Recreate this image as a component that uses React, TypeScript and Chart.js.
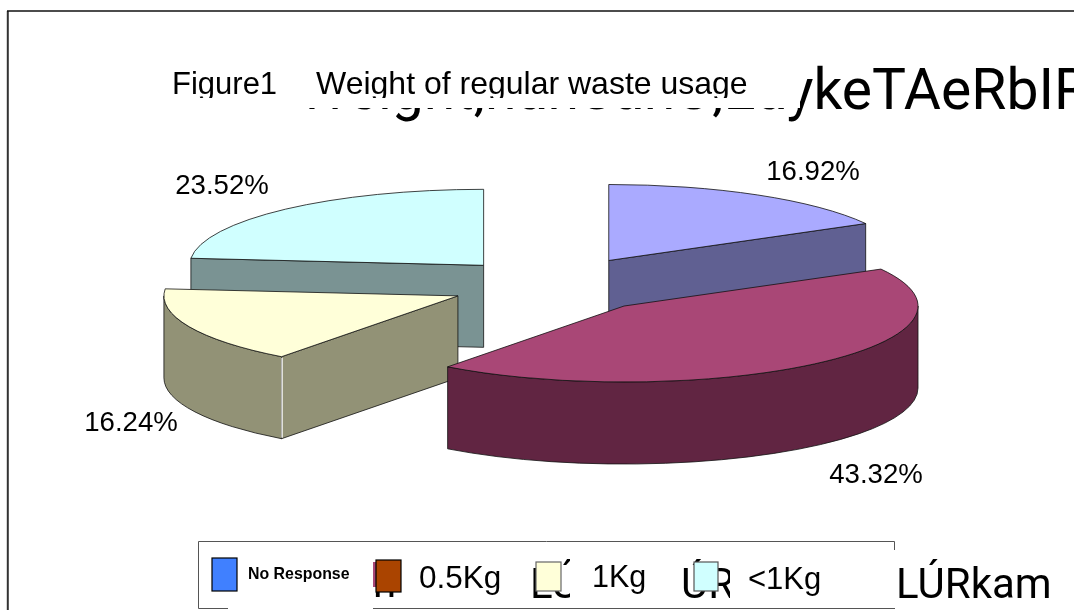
import React, { useEffect, useRef } from "react";
import { Chart, registerables } from "chart.js";

Chart.register(...registerables);

const categories = ["No Response", "0.5Kg", "1Kg", "<1Kg"];
const values = [16.92, 43.32, 16.24, 23.52];
const topColors = ["#AAAAFF", "#A94776", "#FFFFD9", "#D0FFFF"];
const sideColors = ["#606092", "#612542", "#929276", "#7A9393"];
const legendColors = ["#4080FF", "#AA4400", "#FFFFD9", "#D0FFFF"];
const legendBorders = ["#000000", "#000000", "#666666", "#555555"];
const explosion = [110, 108, 104, 103];
const drawOrder = [0, 3, 2, 1];
const titleLeft = "Figure1";
const titleRight = "Weight of regular waste usage";
const hiddenTitle = "Weight,nanSanU,EaykeTAeRbIR";
const hiddenFooter = "LÚRkam";

const SANS = '"Liberation Sans", Arial, sans-serif';
const BIG = 'Roboto, sans-serif';
const squash = 0.2585;
const depth = 82;

const labelCenters = [
  [813, 172],
  [876, 475],
  [131, 423],
  [222, 186],
];
const legendLayout = [
  { box: [212, 558, 25, 33], text: 248, y: 575, font: `bold 15.9px ${SANS}` },
  { box: [376, 560, 25, 32], text: 419, y: 579, font: `31.5px ${SANS}` },
  { box: [536, 562, 25, 29], text: 592, y: 579, font: `30.5px ${SANS}` },
  { box: [694, 562, 24, 29], text: 748, y: 580, font: `31px ${SANS}` },
];

function clipped(ctx: CanvasRenderingContext2D, x: number, y: number, w: number, h: number, fn: () => void) {
  ctx.save();
  ctx.beginPath();
  ctx.rect(x, y, w, h);
  ctx.clip();
  fn();
  ctx.restore();
}

const backdrop = {
  id: "backdrop",
  beforeDraw(chart: any) {
    const ctx: CanvasRenderingContext2D = chart.ctx;
    ctx.save();
    ctx.fillStyle = "#fff";
    ctx.fillRect(0, 0, 1074, 610);
    ctx.strokeStyle = "#333";
    ctx.lineWidth = 2;
    ctx.beginPath();
    ctx.moveTo(7.8, 610);
    ctx.lineTo(7.8, 11);
    ctx.stroke();
    ctx.strokeStyle = "#111";
    ctx.lineWidth = 1.4;
    ctx.beginPath();
    ctx.moveTo(7, 11);
    ctx.lineTo(1074, 11);
    ctx.stroke();

    ctx.fillStyle = "#000";
    ctx.textBaseline = "alphabetic";
    ctx.textAlign = "left";
    ctx.font = `57px ${BIG}`;
    ctx.fillText(hiddenTitle, 298, 109);
    ctx.fillStyle = "#fff";
    ctx.fillRect(150, 12, 650, 96);

    ctx.fillStyle = "#000";
    clipped(ctx, 150, 12, 650, 86, () => {
      ctx.font = `31px ${SANS}`;
      ctx.fillText(titleLeft, 172, 94);
      ctx.font = `32px ${SANS}`;
      ctx.fillText(titleRight, 316, 94);
    });

    ctx.font = `42px ${BIG}`;
    ctx.fillText(hiddenFooter, 896, 598);
    ctx.restore();
  },
};

const pie3d = {
  id: "pie3d",
  beforeDatasetDraw(chart: any, args: any) {
    const ctx: CanvasRenderingContext2D = chart.ctx;
    const arcs = args.meta.data;
    drawOrder.forEach((i) => {
      const el = arcs[i];
      const { x, y, startAngle: a0, endAngle: a1, outerRadius: r } = el.getProps(
        ["x", "y", "startAngle", "endAngle", "outerRadius"],
        true,
      );
      const mid = (a0 + a1) / 2;
      const cx = x + Math.cos(mid) * explosion[i];
      const cy = y + Math.sin(mid) * explosion[i] * squash;
      const pt = (a: number) => [cx + r * Math.cos(a), cy + r * squash * Math.sin(a)];
      ctx.save();
      ctx.lineWidth = 0.8;
      ctx.strokeStyle = "#111";
      ctx.lineJoin = "round";
      ctx.fillStyle = sideColors[i];

      const faces: number[] = [];
      if (Math.cos(a0) < -1e-6) faces.push(a0);
      if (Math.cos(a1) > 1e-6) faces.push(a1);
      faces.forEach((a) => {
        const p = pt(a);
        ctx.beginPath();
        ctx.moveTo(cx, cy);
        ctx.lineTo(p[0], p[1]);
        ctx.lineTo(p[0], p[1] + depth);
        ctx.lineTo(cx, cy + depth);
        ctx.closePath();
        ctx.fill();
        ctx.stroke();
      });

      const from = Math.max(a0, 0);
      const to = Math.min(a1, Math.PI);
      if (to > from) {
        ctx.beginPath();
        ctx.ellipse(cx, cy, r, r * squash, 0, from, to);
        ctx.ellipse(cx, cy + depth, r, r * squash, 0, to, from, true);
        ctx.closePath();
        ctx.fill();
        ctx.stroke();
      }

      // the pale seam where a radial face meets the curved wall
      if (faces.includes(a0) && Math.sin(a0) > 0) {
        const p = pt(a0);
        ctx.save();
        ctx.strokeStyle = "#fff";
        ctx.lineWidth = 1.4;
        ctx.beginPath();
        ctx.moveTo(p[0] + 0.5, p[1] + 1);
        ctx.lineTo(p[0] + 0.5, p[1] + depth - 1);
        ctx.stroke();
        ctx.restore();
      }

      ctx.save();
      ctx.translate(cx, cy);
      ctx.scale(1, squash);
      ctx.translate(-x, -y);
      el.draw(ctx);
      ctx.restore();

      ctx.beginPath();
      ctx.moveTo(cx, cy);
      ctx.ellipse(cx, cy, r, r * squash, 0, a0, a1);
      ctx.closePath();
      ctx.stroke();
      ctx.restore();
    });
    return false;
  },
  afterDraw(chart: any) {
    const ctx: CanvasRenderingContext2D = chart.ctx;
    ctx.save();
    ctx.fillStyle = "#000";
    ctx.textBaseline = "middle";
    ctx.textAlign = "center";
    ctx.font = `27.6px ${SANS}`;
    values.forEach((v, i) => {
      ctx.fillText(`${v.toFixed(2)}%`, labelCenters[i][0], labelCenters[i][1]);
    });

    // legend panel
    ctx.fillStyle = "#fff";
    ctx.fillRect(198, 541, 697, 68);
    ctx.strokeStyle = "#555";
    ctx.lineWidth = 1;
    ctx.beginPath();
    ctx.moveTo(894.5, 550);
    ctx.lineTo(894.5, 541.5);
    ctx.lineTo(198.5, 541.5);
    ctx.lineTo(198.5, 608.5);
    ctx.lineTo(228, 608.5);
    ctx.moveTo(373, 608.5);
    ctx.lineTo(895, 608.5);
    ctx.stroke();

    ctx.textAlign = "left";
    ctx.textBaseline = "alphabetic";
    ctx.fillStyle = "#000";
    ctx.font = `42px ${BIG}`;
    clipped(ctx, 373, 592, 26, 5, () => ctx.fillText("n", 373, 598));
    clipped(ctx, 450, 604, 12, 4, () => ctx.fillText(",", 452, 598));
    clipped(ctx, 528, 550, 42, 50, () => ctx.fillText(hiddenFooter.slice(0, 2), 530, 598));
    clipped(ctx, 682, 550, 48, 50, () => ctx.fillText(hiddenFooter.slice(1, 3), 681, 598));

    ctx.fillStyle = topColors[1];
    ctx.fillRect(373, 562, 4, 25);

    categories.forEach((name, i) => {
      const l = legendLayout[i];
      ctx.fillStyle = legendColors[i];
      ctx.strokeStyle = legendBorders[i];
      ctx.lineWidth = 1.2;
      ctx.fillRect(l.box[0], l.box[1], l.box[2], l.box[3]);
      ctx.strokeRect(l.box[0], l.box[1], l.box[2], l.box[3]);
      ctx.fillStyle = "#000";
      ctx.font = l.font;
      ctx.textBaseline = "middle";
      ctx.fillText(name, l.text, l.y);
    });
    ctx.restore();
  },
};

export default function App() {
  const ref = useRef<HTMLCanvasElement | null>(null);
  useEffect(() => {
    if (!ref.current) return;
    const chart = new Chart(ref.current, {
      type: "pie",
      data: {
        labels: categories,
        datasets: [
          {
            data: values,
            backgroundColor: topColors,
            borderWidth: 0,
            radius: 294,
          } as any,
        ],
      },
      options: {
        responsive: false,
        animation: false,
        devicePixelRatio: 1,
        layout: { padding: { left: 32, right: 0, top: 0, bottom: 40 } },
        plugins: { legend: { display: false }, title: { display: false }, tooltip: { enabled: false } },
      },
      plugins: [backdrop, pie3d],
    } as any);
    return () => chart.destroy();
  }, []);
  return (
    <canvas
      ref={ref}
      width={1074}
      height={610}
      style={{ position: "absolute", left: 0, top: 0, display: "block" }}
    />
  );
}
